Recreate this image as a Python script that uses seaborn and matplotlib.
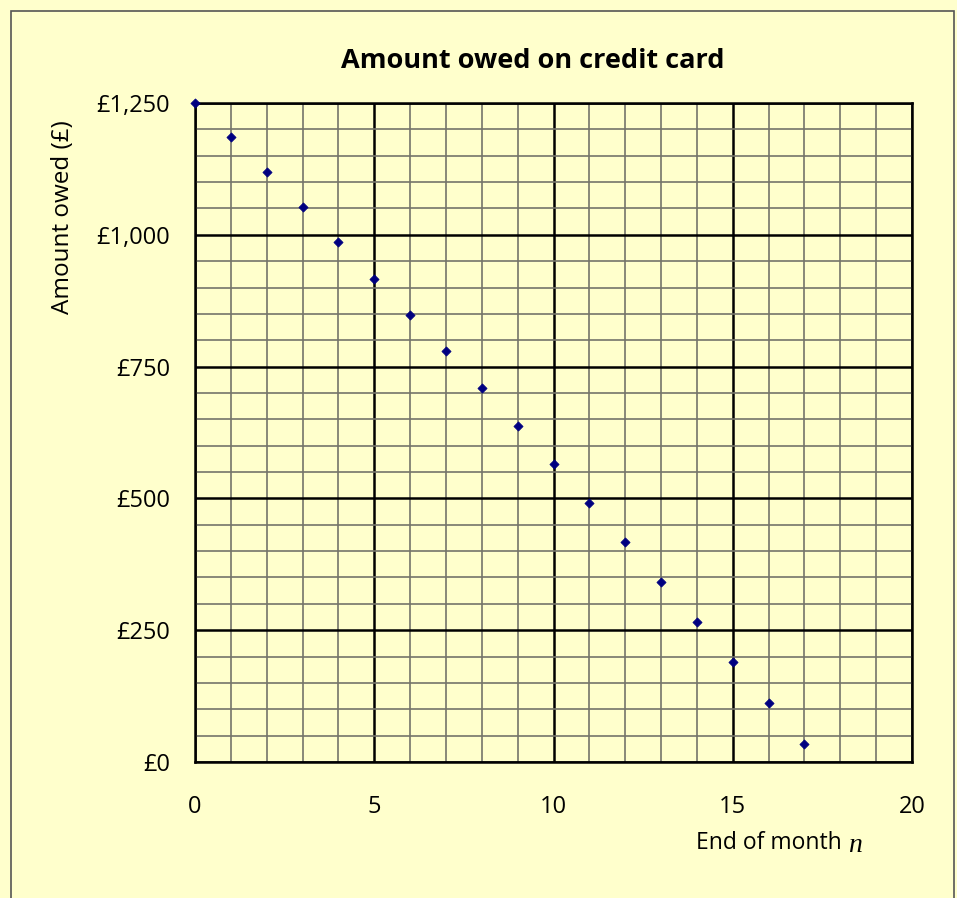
import matplotlib
matplotlib.use("Agg")
import matplotlib.pyplot as plt
from matplotlib.patches import Rectangle
from matplotlib.ticker import FuncFormatter, MultipleLocator
import seaborn as sns
import pandas as pd

# values
months = [0, 1, 2, 3, 4, 5, 6, 7, 8, 9, 10, 11, 12, 13, 14, 15, 16, 17]
owed = [1250, 1185, 1119, 1053, 986, 917, 848, 779, 709, 637, 565, 491,
        417, 341, 266, 190, 112, 34]

df = pd.DataFrame({"month": months, "owed": owed})

sns.set_style("white")
plt.rcParams['font.family'] = ['Open Sans', 'DejaVu Sans']
plt.rcParams['text.color'] = 'black'
plt.rcParams['xtick.color'] = 'black'
plt.rcParams['ytick.color'] = 'black'

bg = "#FFFFCC"
fig = plt.figure(figsize=(9.57, 8.98), dpi=100, facecolor=bg)
ax = fig.add_axes([195/957, 136/898, 717/957, 659/898])
ax.set_facecolor(bg)

# border round the chart area
fig.patches.append(Rectangle((11/957, -0.01), 943/957, 1 - 11/898 + 0.01,
                             transform=fig.transFigure, fill=False,
                             edgecolor="#555555", linewidth=1.2))

ax.set_xlim(0, 20)
ax.set_ylim(0, 1250)
ax.xaxis.set_major_locator(MultipleLocator(5))
ax.xaxis.set_minor_locator(MultipleLocator(1))
ax.yaxis.set_major_locator(MultipleLocator(250))
ax.yaxis.set_minor_locator(MultipleLocator(50))
ax.grid(which="minor", color="#74746a", linewidth=1.2)
ax.grid(which="major", color="black", linewidth=1.8)
ax.set_axisbelow(True)

sns.scatterplot(data=df, x="month", y="owed", ax=ax, marker="D", s=22,
                color="#000080", edgecolor="#000080", linewidth=0.5,
                zorder=5, clip_on=False)

ax.yaxis.set_major_formatter(FuncFormatter(lambda v, p: "£{:,.0f}".format(v)))
for s in ax.spines.values():
    s.set_color("black")
    s.set_linewidth(1.8)
ax.tick_params(which="major", direction="out", length=8, width=1.8,
               color="black", labelsize=17, labelcolor="black")
ax.tick_params(which="minor", length=0)
ax.tick_params(axis="x", pad=16)
ax.tick_params(axis="y", pad=10)

ax.set_xlabel("")
ax.set_ylabel("")
fig.text(533/957, 1 - 61/898, "Amount owed on credit card", ha="center",
         va="center", fontsize=19.5, fontweight="bold")
fig.text(63/957, 1 - 217/898, "Amount owed (£)", ha="center", va="center",
         rotation=90, fontsize=17.5)
fig.text(848/957, 1 - 843/898, "End of month ", ha="right", va="center",
         fontsize=16.5)
fig.text(848/957, 1 - 845/898, "n", ha="left", va="center", fontsize=20,
         style="italic", family="Liberation Serif")

fig.savefig("out.png", dpi=100, facecolor=bg)
